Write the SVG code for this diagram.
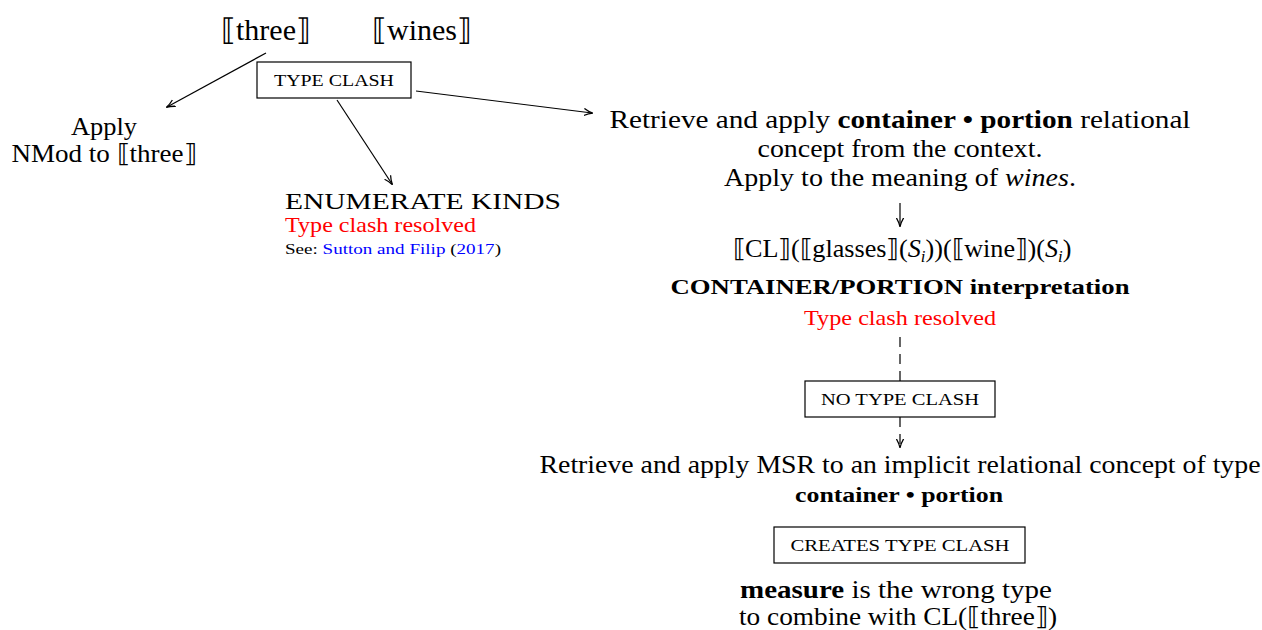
<svg xmlns="http://www.w3.org/2000/svg" width="1262" height="630" viewBox="0 0 1262 630">
<defs>
<style>
text{font-family:"Liberation Serif","DejaVu Serif",serif;fill:#000}
.big{font-size:30px}
.t{font-size:25px}
.sc{font-size:16px}
.red{fill:#ff0000}
.blue{fill:#0000ff}
.b{font-weight:bold}
.box{fill:#fff;stroke:#000;stroke-width:1.2}
.c{stroke:#000;stroke-width:1.2;fill:none}
.d{stroke-dasharray:10,7}
</style>
<marker id="ah" viewBox="0 0 10 10" refX="9" refY="5" markerWidth="9" markerHeight="9" markerUnits="userSpaceOnUse" orient="auto">
<path d="M0,1 Q5,4 10,5 Q5,6 0,9" fill="none" stroke="#000" stroke-width="1.4"/>
</marker>
</defs>
<rect width="1262" height="630" fill="#fff"/>
<g id="connectors">
<line class="c" x1="266" y1="53" x2="167" y2="107" marker-end="url(#ah)"/>
<line class="c" x1="337" y1="100" x2="392" y2="184" marker-end="url(#ah)"/>
<line class="c" x1="416" y1="91" x2="592" y2="113" marker-end="url(#ah)"/>
<line class="c" x1="900" y1="203" x2="900" y2="226" marker-end="url(#ah)"/>
<line class="c d" x1="900" y1="337" x2="900" y2="381"/>
<line class="c d" x1="900" y1="417" x2="900" y2="447" marker-end="url(#ah)"/>
</g>
<g id="three"><text class="big" x="266" y="40" text-anchor="middle">⟦three⟧</text></g>
<g id="wines"><text class="big" x="422" y="40" text-anchor="middle">⟦wines⟧</text></g>
<g id="typeclash">
<rect class="box" x="257" y="62" width="154" height="36"/>
<text class="sc" x="334" y="86" text-anchor="middle" textLength="120" lengthAdjust="spacingAndGlyphs">TYPE CLASH</text>
</g>
<g id="applynmod">
<text class="t" x="104" y="135" text-anchor="middle" textLength="66" lengthAdjust="spacingAndGlyphs">Apply</text>
<text class="t" x="104" y="162" text-anchor="middle" textLength="185" lengthAdjust="spacingAndGlyphs">NMod to ⟦three⟧</text>
</g>
<g id="enumerate">
<text x="285" y="209" font-size="24" textLength="276" lengthAdjust="spacingAndGlyphs">ENUMERATE KINDS</text>
<text class="red" x="285" y="232" font-size="21" textLength="191" lengthAdjust="spacingAndGlyphs">Type clash resolved</text>
<text x="285" y="254" font-size="15" textLength="216" lengthAdjust="spacingAndGlyphs">See: <tspan class="blue">Sutton and Filip</tspan> (<tspan class="blue">2017</tspan>)</text>
</g>
<g id="retrieve1">
<text class="t" x="900" y="128" text-anchor="middle" textLength="581" lengthAdjust="spacingAndGlyphs">Retrieve and apply <tspan class="b">container • portion</tspan> relational</text>
<text class="t" x="900" y="157" text-anchor="middle" textLength="285" lengthAdjust="spacingAndGlyphs">concept from the context.</text>
<text class="t" x="900" y="186" text-anchor="middle" textLength="352" lengthAdjust="spacingAndGlyphs">Apply to the meaning of <tspan font-style="italic">wines</tspan>.</text>
</g>
<g id="formula">
<text class="t" x="902" y="257" text-anchor="middle" textLength="339" lengthAdjust="spacingAndGlyphs">⟦CL⟧(⟦glasses⟧(<tspan font-style="italic">S</tspan><tspan font-size="16" font-style="italic" dy="5">i</tspan><tspan dy="-5">))(⟦wine⟧)(</tspan><tspan font-style="italic">S</tspan><tspan font-size="16" font-style="italic" dy="5">i</tspan><tspan dy="-5">)</tspan></text>
<text class="b" x="900" y="294" font-size="21" text-anchor="middle" textLength="459" lengthAdjust="spacingAndGlyphs">CONTAINER/PORTION interpretation</text>
<text class="red" x="900" y="325" font-size="21" text-anchor="middle" textLength="192" lengthAdjust="spacingAndGlyphs">Type clash resolved</text>
</g>
<g id="notypeclash">
<rect class="box" x="805" y="381" width="190" height="36"/>
<text class="sc" x="900" y="405" text-anchor="middle" textLength="158" lengthAdjust="spacingAndGlyphs">NO TYPE CLASH</text>
</g>
<g id="retrieve2">
<text class="t" x="900" y="473" text-anchor="middle" textLength="721" lengthAdjust="spacingAndGlyphs">Retrieve and apply MSR to an implicit relational concept of type</text>
<text class="b" x="899" y="502" font-size="20" text-anchor="middle" textLength="208" lengthAdjust="spacingAndGlyphs">container • portion</text>
</g>
<g id="createsclash">
<rect class="box" x="774" y="527" width="251" height="36"/>
<text class="sc" x="900" y="551" text-anchor="middle" textLength="219" lengthAdjust="spacingAndGlyphs">CREATES TYPE CLASH</text>
</g>
<g id="measure">
<text class="t" x="896" y="598" text-anchor="middle" textLength="312" lengthAdjust="spacingAndGlyphs"><tspan class="b">measure</tspan> is the wrong type</text>
<text class="t" x="898" y="625" text-anchor="middle" textLength="318" lengthAdjust="spacingAndGlyphs">to combine with CL(⟦three⟧)</text>
</g>
</svg>
